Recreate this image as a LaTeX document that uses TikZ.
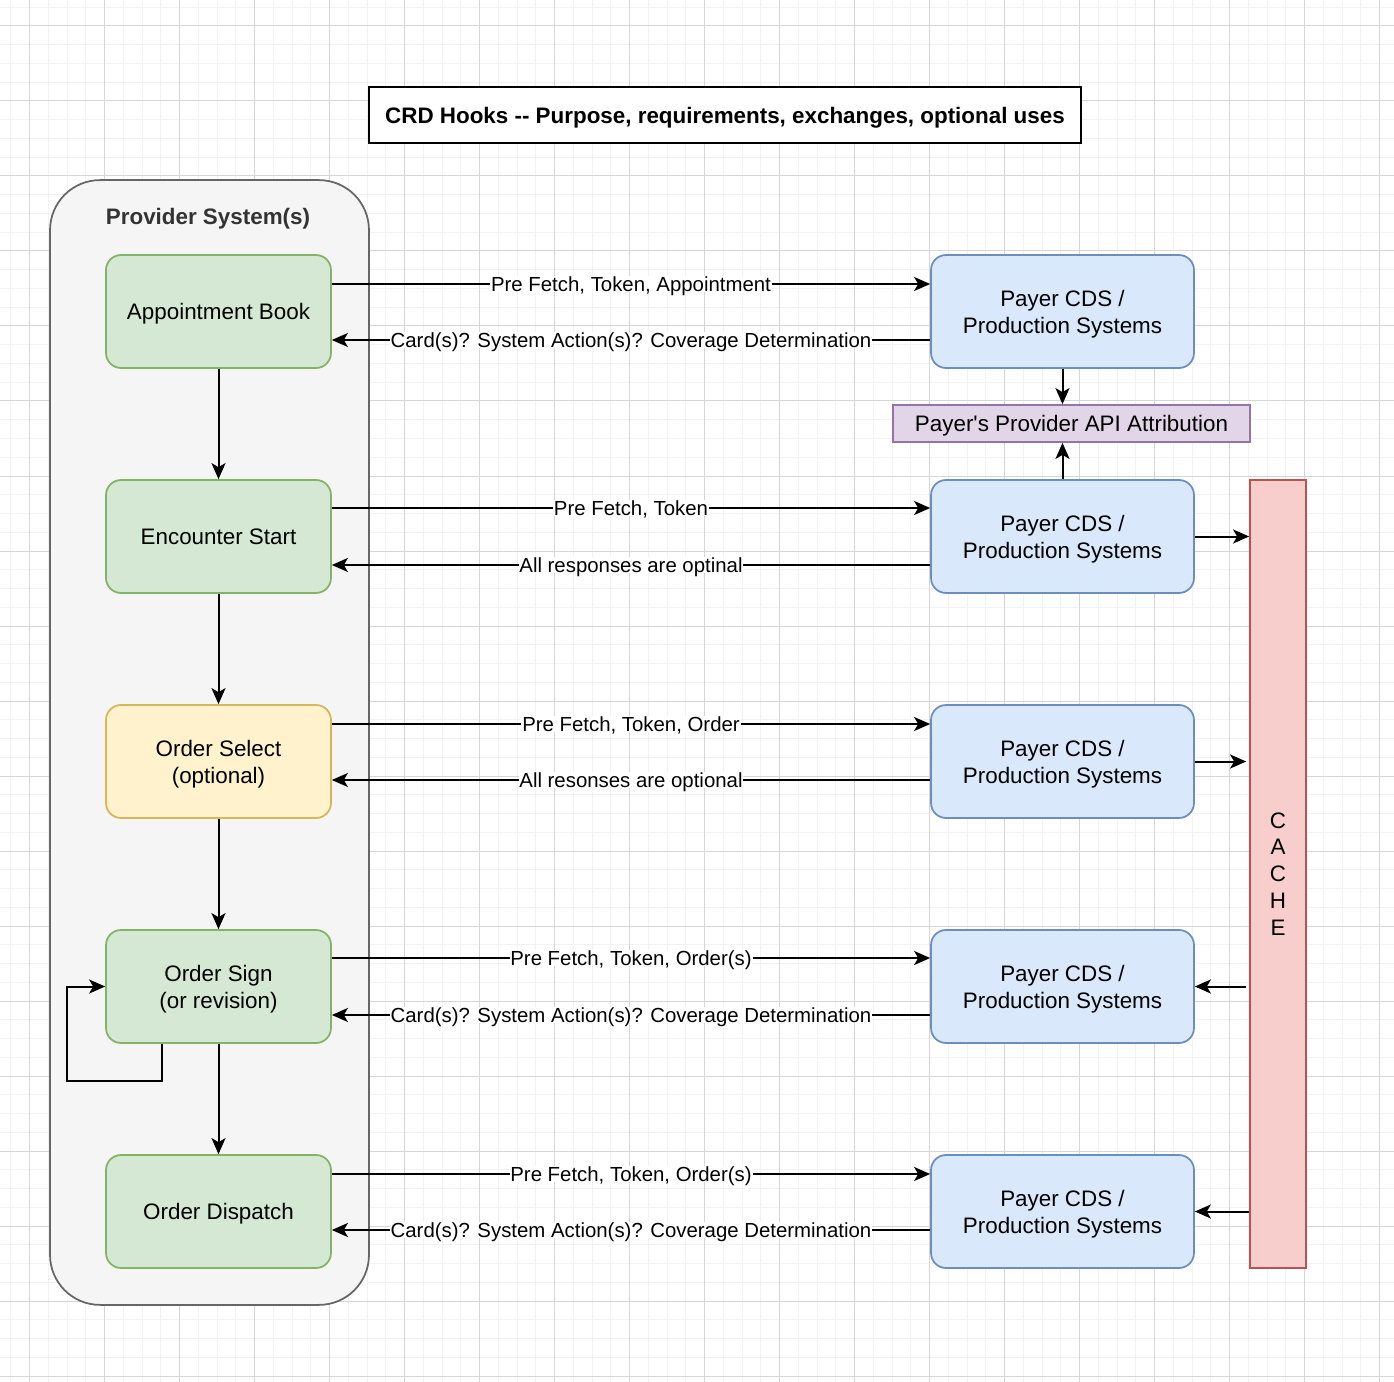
\documentclass[tikz,border=0pt]{standalone}
\usepackage{fontspec}
\setmainfont{Liberation Sans}[Ligatures=TeXOff]
\usetikzlibrary{arrows.meta}
\definecolor{gridminor}{HTML}{F2F2F2}
\definecolor{gridmajor}{HTML}{D6D6D6}
\definecolor{greenfill}{HTML}{D5E8D4}
\definecolor{greenline}{HTML}{82B366}
\definecolor{yellowfill}{HTML}{FFF2CC}
\definecolor{yellowline}{HTML}{D6B656}
\definecolor{bluefill}{HTML}{DAE8FC}
\definecolor{blueline}{HTML}{6C8EBF}
\definecolor{purplefill}{HTML}{E1D5E7}
\definecolor{purpleline}{HTML}{9673A6}
\definecolor{redfill}{HTML}{F8CECC}
\definecolor{redline}{HTML}{B85450}
\definecolor{boxgray}{HTML}{F5F5F5}
\definecolor{boxline}{HTML}{666666}
\definecolor{headgray}{HTML}{333333}
\newcommand{\boxfont}{\fontsize{12.75}{15.4}\selectfont}
\newcommand{\labelfont}{\fontsize{11.6}{13.5}\selectfont}
\begin{document}
\begin{tikzpicture}[x=0.02cm, y=-0.02cm,
    >={Stealth[length=0.32cm,width=0.28cm,inset=0.08cm]},
    minor_line/.style={draw=gridminor, line width=0.02cm},
    major_line/.style={draw=gridmajor, line width=0.02cm},
    link/.style={->, line width=0.04cm},
    edge_label/.style={fill=white, inner sep=0.5pt, text depth=0pt, font=\labelfont},
    green_box/.style={draw=greenline, fill=greenfill, rounded corners=0.3cm, line width=0.035cm,
        minimum width=4.5cm, minimum height=2.26cm, inner sep=0pt, text depth=0pt, align=center, font=\boxfont},
    yellow_box/.style={green_box, draw=yellowline, fill=yellowfill},
    payer_box/.style={green_box, draw=blueline, fill=bluefill, minimum width=5.26cm},
    api_box/.style={draw=purpleline, fill=purplefill, line width=0.035cm, minimum width=7.14cm,
        minimum height=0.74cm, inner sep=0pt, text depth=0pt, font=\boxfont},
    cache_box/.style={draw=redline, fill=redfill, line width=0.035cm, minimum width=1.12cm,
        minimum height=15.76cm, inner sep=0pt, align=center, font=\fontsize{12.75}{15.3}\selectfont},
    title_box/.style={draw, fill=white, line width=0.04cm, minimum width=14.24cm, minimum height=1.12cm,
        text depth=0pt, font=\boxfont\bfseries},
    container/.style={draw=boxline, fill=boxgray, line width=0.035cm, rounded corners=1cm,
        minimum width=6.38cm, minimum height=22.5cm}]
    \useasboundingbox (0,0) rectangle (1394,1382);
    % background grid
    \foreach \i in {0,...,73} {
        \draw[minor_line] (10.75+\i*18.75,0) -- (10.75+\i*18.75,1382);
        \draw[minor_line] (0,7.25+\i*18.75) -- (1394,7.25+\i*18.75);
    }
    \foreach \i in {0,...,18} {
        \draw[major_line] (29.5+\i*75,0) -- (29.5+\i*75,1382);
        \draw[major_line] (0,26+\i*75) -- (1394,26+\i*75);
    }
    \node[title_box] (13) at (725,115) {CRD Hooks -{}- Purpose, requirements, exchanges, optional uses};
    \node[container] (14) at (209.5,742.5) {};
    \node[font=\boxfont\bfseries, text=headgray, text depth=0pt] (15) at (208,216) {Provider System(s)};
    % provider side
    \node[green_box] (1) at (218.5,311.5) {Appointment Book};
    \node[green_box] (2) at (218.5,536.5) {Encounter Start};
    \node[yellow_box] (3) at (218.5,761.5) {Order Select\\(optional)};
    \node[green_box] (4) at (218.5,986.5) {Order Sign\\(or revision)};
    \node[green_box] (5) at (218.5,1211.5) {Order Dispatch};
    % payer side
    \node[payer_box] (6) at (1062.5,311.5) {Payer CDS /\\Production Systems};
    \node[payer_box] (7) at (1062.5,536.5) {Payer CDS /\\Production Systems};
    \node[payer_box] (8) at (1062.5,761.5) {Payer CDS /\\Production Systems};
    \node[payer_box] (9) at (1062.5,986.5) {Payer CDS /\\Production Systems};
    \node[payer_box] (10) at (1062.5,1211.5) {Payer CDS /\\Production Systems};
    \node[api_box] (11) at (1071.5,423.5) {Payer's Provider API Attribution};
    \node[cache_box] (12) at (1278,874) {C\\A\\C\\H\\E};
    % flow down the provider
    \draw[link] (1) -- (2);
    \draw[link] (2) -- (3);
    \draw[link] (3) -- (4);
    \draw[link] (4) -- (5);
    \draw[link] ([xshift=-1.13cm]4.south) -- ++(0,37) -| ([xshift=-0.76cm]4.west) -- (4.west);
    % hook exchanges
    \draw[link] ([yshift=0.55cm]1.east) -- node[edge_label] {Pre Fetch, Token, Appointment} ([yshift=0.55cm]6.west);
    \draw[link] ([yshift=-0.57cm]6.west) -- node[edge_label] {Card(s)? System Action(s)? Coverage Determination} ([yshift=-0.57cm]1.east);
    \draw[link] ([yshift=0.57cm]2.east) -- node[edge_label] {Pre Fetch, Token} ([yshift=0.57cm]7.west);
    \draw[link] ([yshift=-0.57cm]7.west) -- node[edge_label] {All responses are optinal} ([yshift=-0.57cm]2.east);
    \draw[link] ([yshift=0.75cm]3.east) -- node[edge_label] {Pre Fetch, Token, Order} ([yshift=0.75cm]8.west);
    \draw[link] ([yshift=-0.37cm]8.west) -- node[edge_label] {All resonses are optional} ([yshift=-0.37cm]3.east);
    \draw[link] ([yshift=0.57cm]4.east) -- node[edge_label] {Pre Fetch, Token, Order(s)} ([yshift=0.57cm]9.west);
    \draw[link] ([yshift=-0.57cm]9.west) -- node[edge_label] {Card(s)? System Action(s)? Coverage Determination} ([yshift=-0.57cm]4.east);
    \draw[link] ([yshift=0.75cm]5.east) -- node[edge_label] {Pre Fetch, Token, Order(s)} ([yshift=0.75cm]10.west);
    \draw[link] ([yshift=-0.37cm]10.west) -- node[edge_label] {Card(s)? System Action(s)? Coverage Determination} ([yshift=-0.37cm]5.east);
    % attribution and cache
    \draw[link] (6.south) -- (6.south |- 11.north);
    \draw[link] (7.north) -- (7.north |- 11.south);
    \draw[link] (7.east) -- (7.east -| 12.west);
    \draw[link] (8.east) -- ([xshift=-0.06cm]8.east -| 12.west);
    \draw[link] ([xshift=-0.06cm]12.west |- 9.east) -- (9.east);
    \draw[link] (12.west |- 10.east) -- (10.east);
\end{tikzpicture}
\end{document}
